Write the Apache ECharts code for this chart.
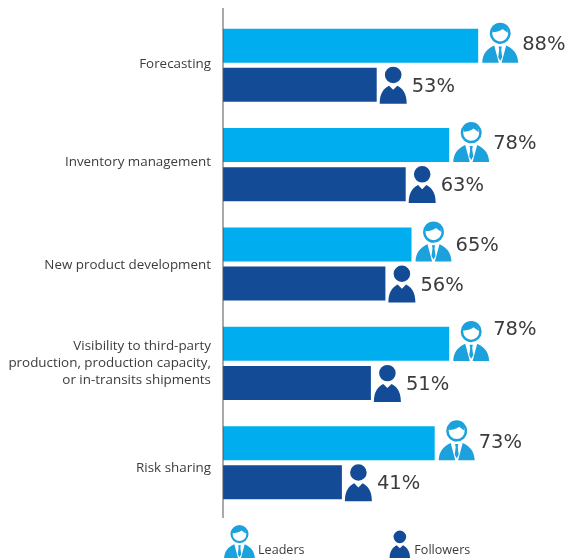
<!DOCTYPE html>
<html>
<head>
<meta charset="utf-8">
<style>html,body{margin:0;padding:0;background:#fff}#chart{width:569px;height:558px}</style>
<script src="https://cdn.jsdelivr.net/npm/echarts@6/dist/echarts.min.js"></script>
</head>
<body>
<div id="chart"></div>
<script>
const categories = [
  'Forecasting',
  'Inventory management',
  'New product development',
  'Visibility to third-party\nproduction, production capacity,\nor in-transits shipments',
  'Risk sharing'
];
const leaders = [88, 78, 65, 78, 73];
const followers = [53, 63, 56, 51, 41];

// Person glyphs; holes rely on opposite winding under the nonzero fill rule.
const leaderIcon = 'path://M7.5 11A10.5 10.5 0 1 1 28.5 11A10.5 10.5 0 1 1 7.5 11Z' +
  'M10 11A8 8 0 1 0 26 11A8 8 0 1 0 10 11Z' +
  'M10.4 10C10.6 5.5 14 3 18 3C22 3 25.4 5.5 25.6 10.5C23.5 9 22 8.2 20.5 6.8C17.5 9.2 13.5 9.8 10.4 10Z' +
  'M0 40C0.5 31 5 26 12 23L16.6 40Z' +
  'M36 40L19.4 40L24 23C31 26 35.5 31 36 40Z' +
  'M16.4 24L19.6 24L19 27L20 34.5L18 38L16 34.5L17 27Z';
const followerBody = 'M5 8A8 8 0 1 1 21 8A8 8 0 1 1 5 8Z' +
  'M0 36C0 25 4.5 21 9 18.5L13 22.5L17 18.5C21.5 21 26 25 26 36Z';
const followerIcon = 'path://' + followerBody;
// The legend figure is drawn a little smaller: a degenerate segment pads its box upward.
const followerLegendIcon = 'path://M13 -7L13 -7Z' + followerBody;

const LEADER_BLUE = '#00aeef';
const LEADER_ICON_BLUE = '#1ba1dc';
const FOLLOWER_BLUE = '#134b97';
const TEXT_DARK = '#3c3c3e';
const BAR_HEIGHT = 34;
const BAR_OFFSET = 19.5;

// The fourth leader label sits above its bar.
const leaderLabelLift = [1, 1, -1, 14, 0];

function personMark(values, opts) {
  return function (params, api) {
    const i = params.dataIndex;
    const end = api.coord([api.value(0), api.value(1)]);
    const cy = end[1] + opts.offset;
    const left = end[0] + opts.gap;
    const lift = opts.lift ? opts.lift[i] : opts.labelDrop * -1;
    return {
      type: 'group',
      silent: true,
      children: [
        {
          type: 'path',
          shape: {
            pathData: opts.icon.replace('path://', ''),
            x: left, y: cy + opts.iconTop, width: opts.w, height: opts.h, layout: 'cover'
          },
          style: { fill: opts.color }
        },
        {
          type: 'text',
          style: {
            text: values[i] + '%',
            x: left + opts.w + opts.labelGap,
            y: cy - lift,
            fill: TEXT_DARK,
            font: '19.5px "DejaVu Sans"',
            align: 'left',
            verticalAlign: 'middle'
          }
        }
      ]
    };
  };
}

const labelFont = { fontFamily: '"Open Sans"', fontSize: 13.4, color: TEXT_DARK };

const chart = echarts.init(document.getElementById('chart'), null, { renderer: 'canvas' });
chart.setOption({
  animation: false,
  backgroundColor: '#fff',
  grid: { left: 223, top: 15.5, width: 290, height: 497 },
  xAxis: { type: 'value', min: 0, max: 100, show: false },
  yAxis: {
    type: 'category',
    inverse: true,
    data: categories,
    axisLine: { show: false },
    axisTick: { show: false },
    axisLabel: {
      margin: 12,
      align: 'right',
      ...labelFont,
      lineHeight: 17,
      // Single-line labels are nudged off the row centre with rich-text padding.
      formatter: (value, index) => {
        const token = ['r0', 'r1', 'r2', '', 'r4'][index];
        return token ? '{' + token + '|' + value + '}' : value;
      },
      rich: {
        r0: { ...labelFont, lineHeight: 17, padding: [0, 0, 2, 0] },
        r1: { ...labelFont, lineHeight: 17, padding: [0, 0, 5, 0] },
        r2: { ...labelFont, lineHeight: 17, padding: [3, 0, 0, 0] },
        r4: { ...labelFont, lineHeight: 17, padding: [11, 0, 0, 0] }
      }
    }
  },
  legend: {
    left: 224,
    top: 525,
    padding: 0,
    orient: 'horizontal',
    itemWidth: 31,
    itemHeight: 34,
    itemGap: 85,
    selectedMode: false,
    formatter: name => '{t|' + name + '}',
    textStyle: {
      rich: { t: { fontFamily: '"Open Sans"', fontSize: 12.6, color: TEXT_DARK, padding: [16, 0, 0, 0] } }
    },
    data: [
      { name: 'Leaders', icon: leaderIcon, itemStyle: { color: LEADER_ICON_BLUE },
        textStyle: { padding: [0, 0, 0, -2] } },
      { name: 'Followers', icon: followerLegendIcon, itemStyle: { color: FOLLOWER_BLUE },
        textStyle: { padding: [0, 0, 0, -6] } }
    ]
  },
  graphic: [{
    type: 'line',
    z: 10,
    shape: { x1: 223, y1: 8, x2: 223, y2: 518 },
    style: { stroke: '#555558', lineWidth: 1 }
  }],
  series: [
    {
      name: 'Leaders', type: 'bar', data: leaders,
      barWidth: BAR_HEIGHT, barGap: '15%',
      itemStyle: { color: LEADER_BLUE }
    },
    {
      name: 'Followers', type: 'bar', data: followers,
      barWidth: BAR_HEIGHT, barGap: '15%',
      itemStyle: { color: FOLLOWER_BLUE }
    },
    {
      name: 'Leaders', type: 'custom',
      data: leaders.map((v, i) => [v, i]),
      encode: { x: 0, y: 1 },
      renderItem: personMark(leaders, {
        icon: leaderIcon, color: LEADER_ICON_BLUE, offset: -BAR_OFFSET,
        gap: 4, w: 36, h: 40, iconTop: -23, labelGap: 4, lift: leaderLabelLift
      }),
      z: 3
    },
    {
      name: 'Followers', type: 'custom',
      data: followers.map((v, i) => [v, i]),
      encode: { x: 0, y: 1 },
      renderItem: personMark(followers, {
        icon: followerIcon, color: FOLLOWER_BLUE, offset: BAR_OFFSET,
        gap: 3, w: 27, h: 37, iconTop: -18, labelGap: 5, labelDrop: 2
      }),
      z: 3
    }
  ]
});
</script>
</body>
</html>
